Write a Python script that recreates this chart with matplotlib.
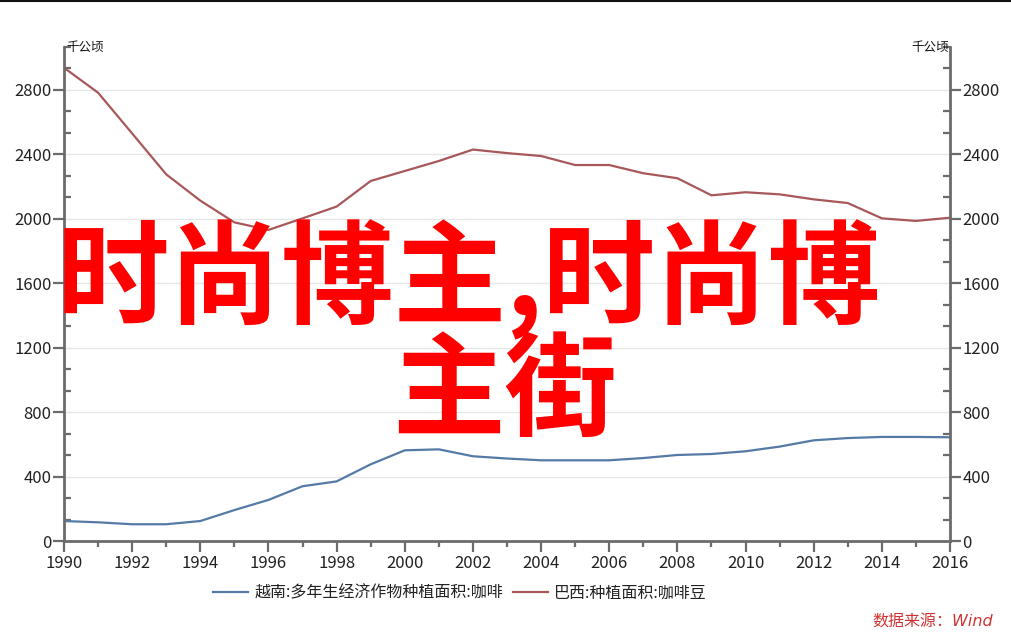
import matplotlib
matplotlib.use("Agg")
import matplotlib.pyplot as plt
from matplotlib.ticker import MultipleLocator
from matplotlib.lines import Line2D

plt.rcParams['font.family'] = ['Noto Sans CJK SC', 'DejaVu Sans']

years = list(range(1990, 2017))
vietnam = [124, 116, 104, 104, 124, 192, 255, 340, 370, 476, 563, 569, 526, 512,
           501, 501, 501, 515, 534, 540, 557, 586, 625, 639, 646, 646, 644]
brazil = [2938, 2783, 2530, 2276, 2113, 1978, 1931, 2003, 2076, 2235, 2297, 2359, 2430, 2408,
          2390, 2334, 2334, 2283, 2252, 2146, 2165, 2152, 2121, 2098, 2003, 1987, 2007]
series_names = ['越南:多年生经济作物种植面积:咖啡', '巴西:种植面积:咖啡豆']
unit = '千公顷'
source = '数据来源：Wind'
watermark_1 = '时尚博主,时尚博'
watermark_2 = '主街'

W, H = 1011, 632
fig = plt.figure(figsize=(W / 100, H / 100), dpi=100)
fig.patch.set_facecolor('white')
ax = fig.add_axes([64 / W, (H - 541) / H, (950 - 64) / W, (541 - 47) / H])

axis_col = '#6b6b6b'
ax.plot(years, vietnam, color='#557aa6', lw=1.6, label=series_names[0])
ax.plot(years, brazil, color='#a8585b', lw=1.6, label=series_names[1])

ytop = 2800 + 2 * 400 / 3
ax.set_xlim(1990, 2016)
ax.set_ylim(0, ytop)
ax.xaxis.set_major_locator(MultipleLocator(2))
ax.xaxis.set_minor_locator(MultipleLocator(1))
ax.yaxis.set_major_locator(MultipleLocator(400))
ax.yaxis.set_minor_locator(MultipleLocator(400 / 3))
ax.grid(axis='y', which='major', color='#e6e6e6', lw=1)
ax.set_axisbelow(True)

for s in ['left', 'right', 'bottom']:
    ax.spines[s].set_color(axis_col)
    ax.spines[s].set_linewidth(2)
ax.spines['top'].set_visible(False)

ax.tick_params(axis='y', which='major', direction='out', length=8, width=1.6,
               color=axis_col, labelsize=12, labelcolor='#222222',
               left=True, right=True, labelleft=True, labelright=True, pad=1)
ax.tick_params(axis='y', which='minor', direction='in', length=5, width=1.6,
               color=axis_col, left=True, right=True)
ax.tick_params(axis='x', which='major', direction='out', length=8, width=1.6,
               color=axis_col, labelsize=12, labelcolor='#222222', pad=2)
ax.tick_params(axis='x', which='minor', direction='out', length=4, width=1.6,
               color=axis_col)

ax.text(1990.06, ytop, unit, fontsize=9, va='center', ha='left', color='#111111')
ax.text(2015.97, ytop, unit, fontsize=9, va='center', ha='right', color='#111111')

fig.legend(loc='center', bbox_to_anchor=(460 / W, 1 - 593 / H), ncol=2,
           frameon=False, fontsize=11.5, handlelength=2.2, columnspacing=0.6,
           handletextpad=0.4, labelcolor='#222222')

fig.text(993 / W, 1 - 622 / H, source, ha='right', va='center', fontsize=11.5,
         style='italic', color='#d03434', family=['DejaVu Sans', 'Noto Sans CJK SC'])

fig.text(469 / W, 1 - 280 / H, watermark_1, ha='center', va='center', fontsize=81,
         fontweight='bold', color='#ff0000')
fig.text(505 / W, 1 - 394 / H, watermark_2, ha='center', va='center', fontsize=81,
         fontweight='bold', color='#ff0000')

fig.add_artist(Line2D([0, 1], [1 - 0.5 / H, 1 - 0.5 / H], transform=fig.transFigure,
                      color='#111111', lw=1.5))

fig.savefig('out.png', dpi=100, facecolor='white')
